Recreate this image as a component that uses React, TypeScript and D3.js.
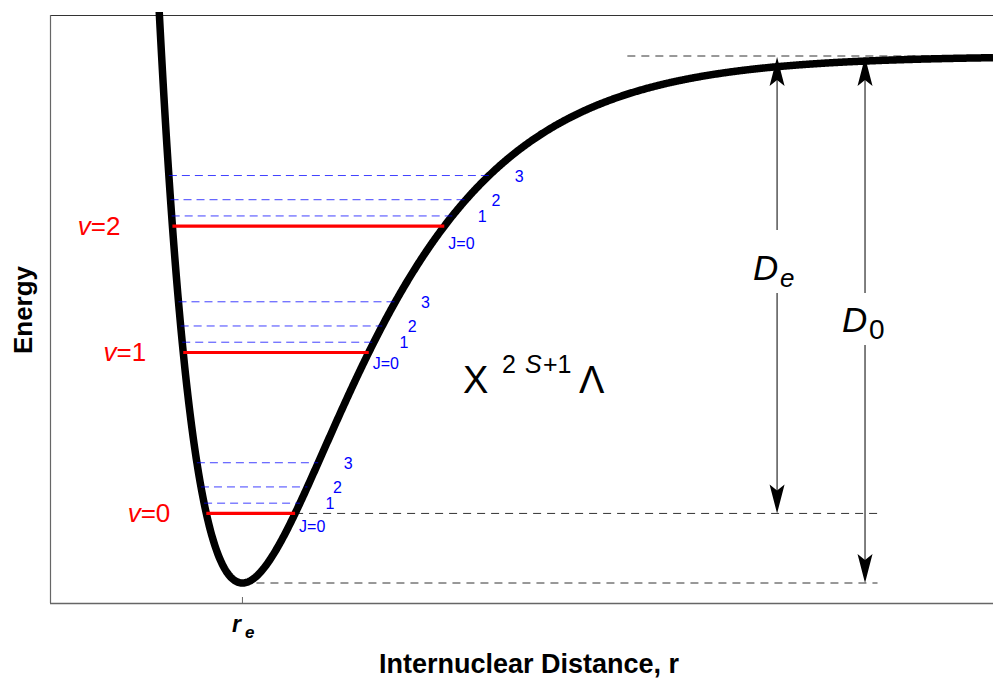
import React from "react";
import * as d3 from "d3";

// Morse potential parameters (energy in units of the well depth, r in Å-like units)
const wellDepth = 1.0;
const morseA = 1.65;
const rEq = 1.0;

// Vibrational levels and their energies above the minimum
const vibQuantum = [0, 1, 2];
const vibEnergy = [0.132, 0.4374, 0.677];

// Rotational sub-levels J = 1..3 above each vibrational level
const rotQuantum = [1, 2, 3];
const rotOffset = [0.0195, 0.0503, 0.0962];

// Dissociation-energy annotations
const deArrowR = 3.778;
const d0ArrowR = 4.235;
const asymptoteStartR = 3.0;
const guideEndR = 4.3;

const W = 993;
const H = 679;
const plot = { left: 50, right: 993, top: 15, bottom: 603 };

const xScale = d3.scaleLinear().domain([0, 4.9]).range([plot.left, plot.right]);
const yScale = d3.scaleLinear().domain([-0.03795, 1.0778]).range([plot.bottom, plot.top]);

const morse = (r: number) => wellDepth * Math.pow(1 - Math.exp(-morseA * (r - rEq)), 2);
const turnLeft = (e: number) => rEq - Math.log(1 + Math.sqrt(e / wellDepth)) / morseA;
const turnRight = (e: number) => rEq - Math.log(1 - Math.sqrt(e / wellDepth)) / morseA;

// label layout
const vLabelGap = [36, 37, 52];
const j0LabelDy = [13, 11, 17];

const FONT = "'Liberation Sans', Arial, Helvetica, sans-serif";
const BLUE = "#0000ff";
const RED = "#ff0000";

const arrowHead = (x: number, y: number, dir: number) => {
  // dir = -1 points up, +1 points down; tip at (x, y)
  const L = 29;
  const w = 7.5;
  const n = 23;
  return `M${x},${y} L${x + w},${y - dir * L} L${x},${y - dir * n} L${x - w},${y - dir * L} Z`;
};

export default function App() {
  const samples = d3.range(0.52, 4.9001, 0.004).map((r) => [r, morse(r)] as [number, number]);
  const line = d3
    .line<[number, number]>()
    .x((d) => xScale(d[0]))
    .y((d) => yScale(d[1]))
    .curve(d3.curveLinear);

  const yAsym = yScale(wellDepth);
  const yMin = yScale(0);
  const yV0 = yScale(vibEnergy[0]);
  const xDe = xScale(deArrowR);
  const xD0 = xScale(d0ArrowR);

  return (
    <svg width={W} height={H} style={{ display: "block", position: "absolute", left: 0, top: 0 }}>
      <defs>
        <clipPath id="plotClip">
          <rect x={plot.left} y={12} width={plot.right - plot.left} height={plot.bottom - 12} />
        </clipPath>
      </defs>
      <rect x={0} y={0} width={W} height={H} fill="#fff" />

      {/* frame */}
      <line x1={plot.left} x2={plot.right} y1={plot.top + 0.5} y2={plot.top + 0.5} stroke="#333" strokeWidth={1.2} />
      <line x1={plot.left + 0.5} x2={plot.left + 0.5} y1={plot.top} y2={plot.bottom} stroke="#666" strokeWidth={1.2} />
      <line x1={plot.left} x2={plot.right} y1={plot.bottom + 0.5} y2={plot.bottom + 0.5} stroke="#666" strokeWidth={1.5} />
      <line x1={xScale(rEq)} x2={xScale(rEq)} y1={plot.bottom - 6} y2={plot.bottom} stroke="#666" strokeWidth={1} />

      {/* guide lines */}
      <g stroke="#333" strokeWidth={1} strokeDasharray="8,6" fill="none">
        <line x1={xScale(asymptoteStartR)} x2={plot.right} y1={yAsym} y2={yAsym} />
        <line x1={xScale(turnRight(vibEnergy[0]))} x2={xScale(guideEndR)} y1={yV0} y2={yV0} />
        <line x1={xScale(rEq)} x2={xScale(guideEndR)} y1={yMin} y2={yMin} />
      </g>

      {/* potential curve */}
      <path d={line(samples) || ""} fill="none" stroke="#000" strokeWidth={7.5} clipPath="url(#plotClip)" />

      {/* levels */}
      {vibQuantum.map((v, i) => {
        const e = vibEnergy[i];
        const y = yScale(e);
        const xl = xScale(turnLeft(e));
        const xr = xScale(turnRight(e));
        return (
          <g key={v}>
            {rotQuantum.map((j, k) => {
              const ej = e + rotOffset[k];
              const yj = yScale(ej);
              const xjl = xScale(turnLeft(ej));
              const xjr = xScale(turnRight(ej));
              return (
                <g key={j}>
                  <line x1={xjl} x2={xjr} y1={yj} y2={yj} stroke={BLUE} strokeOpacity={0.75} strokeWidth={1} strokeDasharray="8,5" />
                  <text x={xjr + 30} y={yj + 6} fill={BLUE} fontSize={16} fontFamily={FONT} textAnchor="middle">
                    {j}
                  </text>
                </g>
              );
            })}
            <line x1={xl} x2={xr} y1={y} y2={y} stroke={RED} strokeWidth={3.2} />
            <text x={xr + 4} y={y + j0LabelDy[i] + 6} fill={BLUE} fontSize={16} fontFamily={FONT}>
              J=0
            </text>
            <text x={xl - vLabelGap[i]} y={y + 9} fill={RED} fontSize={26} fontFamily={FONT} textAnchor="end">
              <tspan fontStyle="italic">v</tspan>={v}
            </text>
          </g>
        );
      })}

      {/* dissociation arrows */}
      <g stroke="#000" strokeWidth={1}>
        <line x1={xDe} x2={xDe} y1={yAsym + 20} y2={230} />
        <line x1={xDe} x2={xDe} y1={293} y2={yV0 - 20} />
        <line x1={xD0} x2={xD0} y1={yAsym + 20} y2={293} />
        <line x1={xD0} x2={xD0} y1={345} y2={yMin - 20} />
      </g>
      <g fill="#000">
        <path d={arrowHead(xDe, yAsym + 1, -1)} />
        <path d={arrowHead(xDe, yV0, 1)} />
        <path d={arrowHead(xD0, yAsym + 1, -1)} />
        <path d={arrowHead(xD0, yMin, 1)} />
      </g>

      <text x={753} y={280} fontSize={35} fontFamily={FONT} fontStyle="italic">
        D
        <tspan x={780} y={287} fontSize={26}>e</tspan>
      </text>
      <text x={842} y={332} fontSize={35} fontFamily={FONT} fontStyle="italic">
        D
        <tspan x={869} y={339} fontSize={28} fontStyle="normal">0</tspan>
      </text>

      {/* term symbol */}
      <text fontFamily={FONT} fill="#000">
        <tspan x={463} y={393} fontSize={38}>X</tspan>
        <tspan x={502} y={373} fontSize={25}>2</tspan>
        <tspan x={525} y={373} fontSize={25} fontStyle="italic">S</tspan>
        <tspan x={543} y={373} fontSize={25}>+1</tspan>
        <tspan x={579} y={393} fontSize={38}>Λ</tspan>
      </text>

      {/* axis labels */}
      <text x={232} y={632} fontSize={23} fontWeight="bold" fontStyle="italic" fontFamily={FONT}>
        r
        <tspan x={245} y={638} fontSize={17}>e</tspan>
      </text>
      <text x={529} y={673} fontSize={27} fontWeight="bold" fontFamily={FONT} textAnchor="middle">
        Internuclear Distance, r
      </text>
      <text transform="translate(32,310) rotate(-90)" fontSize={26} fontWeight="bold" fontFamily={FONT} textAnchor="middle">
        Energy
      </text>
    </svg>
  );
}
